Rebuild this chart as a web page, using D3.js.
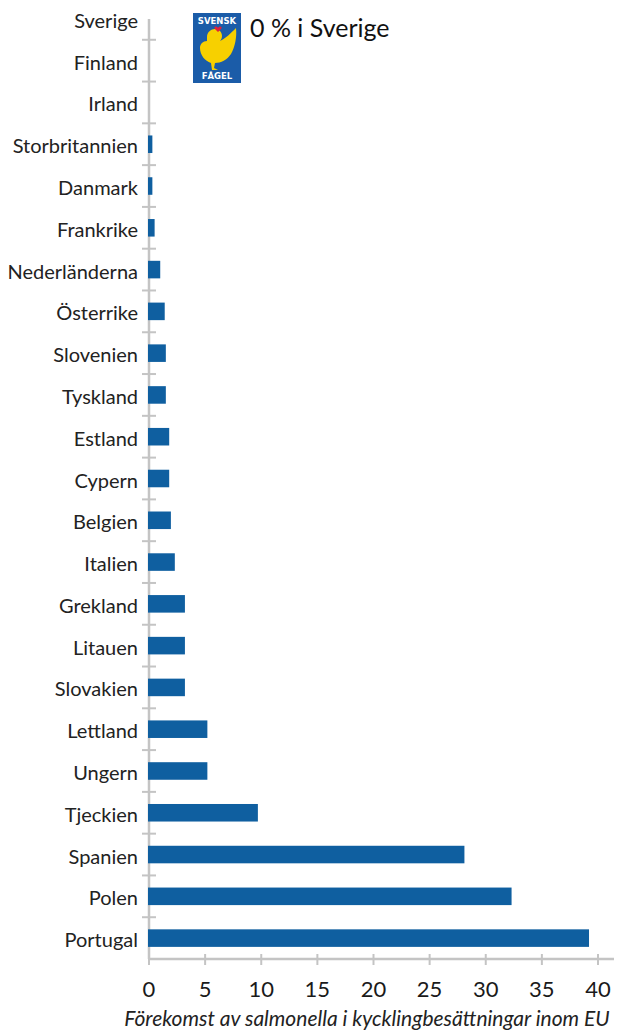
<!DOCTYPE html>
<html><head><meta charset="utf-8">
<script src="https://cdn.jsdelivr.net/npm/d3@7"></script>
<style>body{margin:0;background:#fff}</style>
</head><body>
<svg id="c" width="622" height="1035"></svg>
<script>
const categories = ["Sverige","Finland","Irland","Storbritannien","Danmark","Frankrike","Nederländerna","Österrike","Slovenien","Tyskland","Estland","Cypern","Belgien","Italien","Grekland","Litauen","Slovakien","Lettland","Ungern","Tjeckien","Spanien","Polen","Portugal"];
const values = [0,0,0,0.3,0.3,0.5,1.0,1.4,1.5,1.5,1.8,1.8,1.95,2.3,3.2,3.2,3.2,5.2,5.2,9.7,28.1,32.3,39.2];
const xTicks = [0,5,10,15,20,25,30,35,40];
const title = "0 % i Sverige";
const caption = "Förekomst av salmonella i kycklingbesättningar inom EU";
const logoTop = "SVENSK";
const logoBottom = "FÅGEL";

const svg = d3.select("#c");
const font = "Lato, 'Open Sans', sans-serif";
const axisColor = "#c4c4c4";
const barColor = "#0f5fa0";

const x = d3.scaleLinear().domain([0, 40]).range([149, 598]);
const y = d3.scaleBand().domain(categories).range([-2, 959]).paddingInner(0.58).paddingOuter(0.29);
const step = y.step();

// vertical axis
svg.append("line").attr("x1", x(0)).attr("x2", x(0)).attr("y1", 19).attr("y2", 959)
  .attr("stroke", axisColor).attr("stroke-width", 2.5);
// category boundary ticks
const bounds = categories.map((c, i) => y(c) - y.paddingInner() * step / 2 + step);
svg.append("g").selectAll("line").data(bounds.slice(0, -1)).join("line")
  .attr("x1", x(0) - 7).attr("x2", x(0) + 7).attr("y1", d => d).attr("y2", d => d)
  .attr("stroke", axisColor).attr("stroke-width", 2);

// horizontal axis
svg.append("line").attr("x1", x(0)).attr("x2", 614).attr("y1", 959).attr("y2", 959)
  .attr("stroke", axisColor).attr("stroke-width", 2.5);
svg.append("g").selectAll("line").data(xTicks).join("line")
  .attr("x1", d => x(d)).attr("x2", d => x(d)).attr("y1", 954).attr("y2", 965)
  .attr("stroke", axisColor).attr("stroke-width", 2);
svg.append("g").selectAll("text").data(xTicks).join("text")
  .attr("x", d => x(d)).attr("y", 997).attr("text-anchor", "middle")
  .attr("font-family", font).attr("font-size", 22).attr("fill", "#1a1a1a").text(d => d);

// bars
svg.append("g").selectAll("rect").data(categories.map((c, i) => ({c, v: values[i]})).filter(d => d.v > 0)).join("rect")
  .attr("x", x(0) - 1).attr("y", d => y(d.c)).attr("height", y.bandwidth())
  .attr("width", d => x(d.v) - x(0) + 1).attr("fill", barColor);

// category labels
svg.append("g").selectAll("text").data(categories).join("text")
  .attr("x", 138).attr("y", d => y(d) + y.bandwidth() / 2 + 9)
  .attr("text-anchor", "end").attr("font-family", font).attr("font-size", 20).attr("fill", "#222")
  .text(d => d);

// title
svg.append("text").attr("x", 250).attr("y", 37).attr("font-family", font).attr("font-size", 25)
  .attr("fill", "#111").text(title);

// caption
svg.append("text").attr("x", 367).attr("y", 1026).attr("text-anchor", "middle")
  .attr("font-family", font).attr("font-style", "italic").attr("font-size", 21).attr("fill", "#222").text(caption);

// logo
const lg = svg.append("g").attr("transform", "translate(193,13)");
lg.append("rect").attr("width", 48).attr("height", 70).attr("fill", "#1b5ca8");
lg.append("text").attr("x", 24).attr("y", 11).attr("text-anchor", "middle").attr("font-family", "'DejaVu Sans', sans-serif")
  .attr("font-weight", "bold").attr("font-size", 8.5).attr("fill", "#fff").text(logoTop);
lg.append("text").attr("x", 24).attr("y", 66).attr("text-anchor", "middle").attr("font-family", "'DejaVu Sans', sans-serif")
  .attr("font-weight", "bold").attr("font-size", 8.5).attr("fill", "#fff").text(logoBottom);
lg.append("path").attr("fill", "#f7d000")
  .attr("d", "M14,24 C14,19 18,16 22,16 C26,16 29,19 29,23 C29,25 28,27 27,28 C32,26 38,20 43,15 C44,24 42,34 38,41 C34,47 28,50 22,50 L21,55 L25,57 L19,57 L18,50 C12,48 7,42 7,35 C7,31 10,28 14,28 Z");
lg.append("path").attr("fill", "#e0203a")
  .attr("d", "M25,15 C23,12 20,14 22,16 L25,19 L28,16 C30,14 27,12 25,15 Z");
</script>
</body></html>
